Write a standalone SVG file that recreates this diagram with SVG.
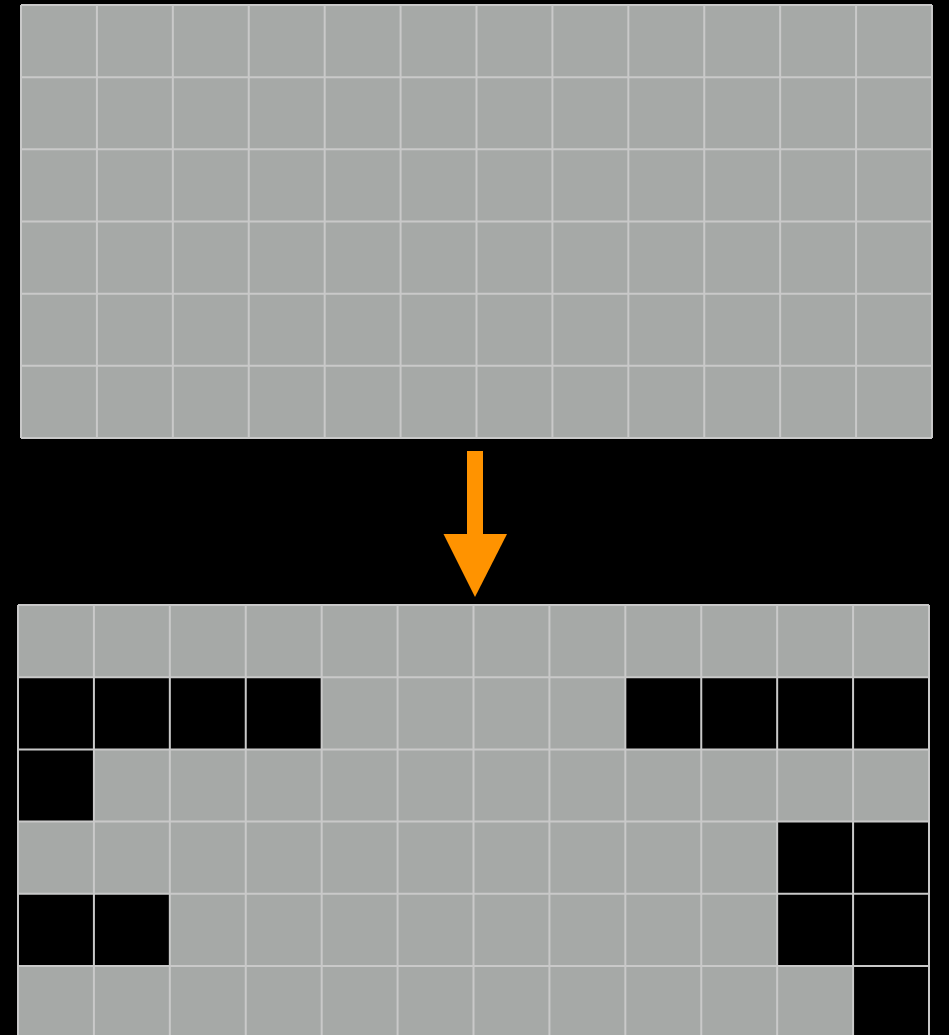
<svg xmlns="http://www.w3.org/2000/svg" width="949" height="1035" viewBox="0 0 949 1035">
<style>
.cell{fill:#a6a9a7}
.off{fill:#000}
.grid{fill:none;stroke:#c9c9c9;stroke-width:2}
.arrow{fill:#ff9300}
</style>
<rect width="949" height="1035" fill="#000"/>
<g id="top-grid">
<rect class="cell" x="21" y="5" width="911" height="433"/>
<path class="grid" d="M21,5V438M96.92,5V438M172.83,5V438M248.75,5V438M324.67,5V438M400.58,5V438M476.5,5V438M552.42,5V438M628.33,5V438M704.25,5V438M780.17,5V438M856.08,5V438M932,5V438M21,5H932M21,77.17H932M21,149.33H932M21,221.5H932M21,293.67H932M21,365.83H932M21,438H932"/>
</g>
<g id="connectors">
<g id="arrow">
<rect class="arrow" x="467" y="451" width="16" height="84"/>
<polygon class="arrow" points="443.5,534 507,534 475,597"/>
</g>
</g>
<g id="bottom-grid">
<rect class="cell" x="18" y="605" width="911" height="433"/>
<rect class="off" x="18" y="677.2" width="303.67" height="72.2"/>
<rect class="off" x="625.33" y="677.2" width="303.67" height="72.2"/>
<rect class="off" x="18" y="749.4" width="75.92" height="72.2"/>
<rect class="off" x="777.17" y="821.6" width="151.83" height="72.2"/>
<rect class="off" x="18" y="893.8" width="151.83" height="72.2"/>
<rect class="off" x="777.17" y="893.8" width="151.83" height="72.2"/>
<rect class="off" x="853.08" y="966" width="75.92" height="72.2"/>
<path class="grid" d="M18,605V1038M93.92,605V1038M169.83,605V1038M245.75,605V1038M321.67,605V1038M397.58,605V1038M473.5,605V1038M549.42,605V1038M625.33,605V1038M701.25,605V1038M777.17,605V1038M853.08,605V1038M929,605V1038M18,605H929M18,677.2H929M18,749.4H929M18,821.6H929M18,893.8H929M18,966H929"/>
</g>
</svg>
